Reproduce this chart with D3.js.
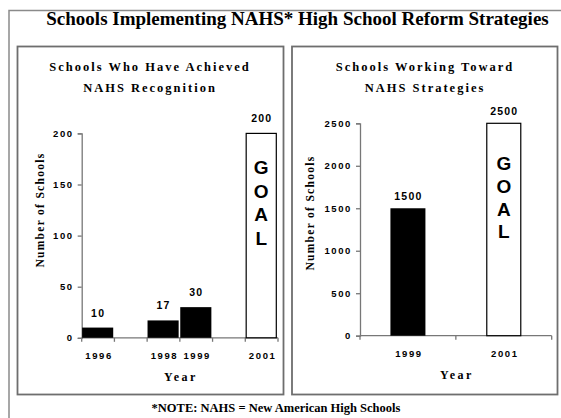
<!DOCTYPE html>
<html>
<head>
<meta charset="utf-8">
<script src="https://cdn.jsdelivr.net/npm/d3@7"></script>
<style>
  body { margin: 0; background: #fff; }
  svg { display: block; }
  .serif { font-family: "Liberation Serif", "DejaVu Serif", serif; font-weight: bold; }
  .sans { font-family: "Liberation Sans", "DejaVu Sans", sans-serif; font-weight: bold; }
</style>
</head>
<body>
<svg id="chart" width="561" height="418"></svg>
<script>
// data
const leftYears = ["1996", "1997", "1998", "1999", "2000", "2001"];
const leftYearLabels = ["1996", "", "1998", "1999", "", "2001"];
const achievedYears = ["1996", "1998", "1999"];
const achievedValues = [10, 17, 30];
const leftGoalYear = "2001";
const leftGoalValue = 200;
const leftTicks = [0, 50, 100, 150, 200];

const rightYears = ["1999", "2001"];
const workingYears = ["1999"];
const workingValues = [1500];
const rightGoalYear = "2001";
const rightGoalValue = 2500;
const rightTicks = [0, 500, 1000, 1500, 2000, 2500];

const goalLetters = ["G", "O", "A", "L"];

let svg = d3.select("#chart");

// outer frame
svg.append("rect")
  .attr("x", 9).attr("y", 10.5)
  .attr("width", 560).attr("height", 420)
  .attr("fill", "none").attr("stroke", "#8a8a8a").attr("stroke-width", 1.5);

svg.append("text")
  .attr("class", "serif")
  .attr("x", 297.5).attr("y", 24.5)
  .attr("text-anchor", "middle")
  .style("font-size", "19px")
  .text("Schools Implementing NAHS* High School Reform Strategies");

svg.append("text")
  .attr("class", "serif")
  .attr("x", 276).attr("y", 411.5)
  .attr("text-anchor", "middle")
  .style("font-size", "12.5px")
  .text("*NOTE: NAHS = New American High Schools");

// panels
function panel(x0, x1) {
  svg.append("rect")
    .attr("x", x0).attr("y", 46.5)
    .attr("width", x1 - x0).attr("height", 348)
    .attr("fill", "#fff").attr("stroke", "#6e6e6e").attr("stroke-width", 1.8);
}
panel(17.5, 283.5);
panel(292, 557.5);

function drawChart(opt) {
  let g = svg.append("g");

  // titles
  opt.title.forEach(function(t, i) {
    g.append("text")
      .attr("class", "serif")
      .attr("x", opt.titleX).attr("y", 71 + i * 20.5)
      .attr("text-anchor", "middle")
      .style("font-size", "12.5px")
      .style("letter-spacing", "2px")
      .text(t);
  });

  let x = d3.scaleBand().domain(opt.years).range(opt.xRange);
  let y = d3.scaleLinear().domain(opt.yDomain).range(opt.yRange);
  let base = opt.yRange[0];

  // y axis
  let yAxis = d3.axisLeft(y).tickValues(opt.yTicks).tickFormat(d3.format("d"))
    .tickSize(4).tickPadding(4);
  let ya = g.append("g")
    .attr("transform", "translate(" + opt.xRange[0] + ",0)")
    .call(yAxis);
  ya.attr("font-family", null).attr("font-size", null);
  ya.select(".domain").attr("stroke", "#777").attr("stroke-width", 1.3);
  ya.selectAll(".tick line").attr("stroke", "#777").attr("stroke-width", 1.3);
  ya.selectAll(".tick text")
    .attr("class", "sans")
    .attr("fill", "#000")
    .style("font-size", "9.5px")
    .style("letter-spacing", "1.6px");

  // x axis line and band boundary ticks
  g.append("line")
    .attr("x1", opt.xRange[0]).attr("x2", opt.xRange[1])
    .attr("y1", base).attr("y2", base)
    .attr("stroke", "#777").attr("stroke-width", 1.3);
  let bounds = opt.years.map(d => x(d)).concat([opt.xRange[1]]);
  g.selectAll(".xtick").data(bounds).join("line")
    .attr("x1", d => d).attr("x2", d => d)
    .attr("y1", base).attr("y2", base + 4)
    .attr("stroke", "#777").attr("stroke-width", 1.3);
  g.selectAll(".xlab").data(opt.years).join("text")
    .attr("class", "sans")
    .attr("x", (d, i) => x(d) + x.bandwidth() / 2 + 1)
    .attr("y", base + 21)
    .attr("text-anchor", "middle")
    .style("font-size", "9.5px")
    .style("letter-spacing", "1.6px")
    .text((d, i) => opt.yearLabels[i]);

  g.append("text")
    .attr("class", "serif")
    .attr("x", (opt.xRange[0] + opt.xRange[1]) / 2 + 1)
    .attr("y", base + 43)
    .attr("text-anchor", "middle")
    .style("font-size", "12px")
    .style("letter-spacing", "2.4px")
    .text("Year");

  g.append("text")
    .attr("class", "serif")
    .attr("transform", "translate(" + opt.yLabelX + "," + opt.yLabelY + ") rotate(-90)")
    .attr("text-anchor", "middle")
    .style("font-size", "11.5px")
    .style("letter-spacing", "1.3px")
    .text("Number of Schools");

  let bw = opt.barWidth(x.bandwidth());
  let bx = d => x(d) + opt.barOffset(x.bandwidth(), bw);

  // achieved bars
  g.selectAll(".bar").data(opt.barYears).join("rect")
    .attr("x", d => bx(d))
    .attr("y", (d, i) => y(opt.barValues[i]))
    .attr("width", bw)
    .attr("height", (d, i) => base - y(opt.barValues[i]))
    .attr("fill", "#000");

  // goal bar
  g.append("rect")
    .attr("x", bx(opt.goalYear) + 0.5)
    .attr("y", y(opt.goalValue))
    .attr("width", bw - 1)
    .attr("height", base - y(opt.goalValue))
    .attr("fill", "#fff").attr("stroke", "#000").attr("stroke-width", 1.2);

  // value labels
  let labYears = opt.barYears.concat([opt.goalYear]);
  let labValues = opt.barValues.concat([opt.goalValue]);
  g.selectAll(".val").data(labYears).join("text")
    .attr("class", "sans")
    .attr("x", d => bx(d) + bw / 2 + 0.5)
    .attr("y", (d, i) => y(labValues[i]) - opt.labelGap)
    .attr("text-anchor", "middle")
    .style("font-size", "10.5px")
    .style("letter-spacing", "1.2px")
    .text((d, i) => labValues[i]);

  // GOAL letters
  g.selectAll(".goal").data(goalLetters).join("text")
    .attr("class", "sans")
    .attr("x", bx(opt.goalYear) + bw / 2)
    .attr("y", (d, i) => opt.goalTop + i * opt.goalStep)
    .attr("text-anchor", "middle")
    .style("font-size", "19px")
    .text(d => d);
}

drawChart({
  title: ["Schools Who Have Achieved", "NAHS Recognition"],
  titleX: 150,
  years: leftYears,
  yearLabels: leftYearLabels,
  xRange: [81.7, 278],
  yDomain: [0, 200],
  yRange: [337.8, 133.4],
  yTicks: leftTicks,
  yLabelX: 44, yLabelY: 210,
  barWidth: b => b - 1.6,
  barOffset: (b, w) => 0.4,
  barYears: achievedYears,
  barValues: achievedValues,
  goalYear: leftGoalYear,
  goalValue: leftGoalValue,
  labelGap: 11,
  goalTop: 174, goalStep: 23.7
});

drawChart({
  title: ["Schools Working Toward", "NAHS Strategies"],
  titleX: 425,
  years: rightYears,
  yearLabels: rightYears,
  xRange: [360, 551.7],
  yDomain: [0, 2500],
  yRange: [335.7, 123.3],
  yTicks: rightTicks,
  yLabelX: 314, yLabelY: 213,
  barWidth: b => 35,
  barOffset: (b, w) => (b - w) / 2,
  barYears: workingYears,
  barValues: workingValues,
  goalYear: rightGoalYear,
  goalValue: rightGoalValue,
  labelGap: 8.5,
  goalTop: 170, goalStep: 22.8
});
</script>
</body>
</html>
